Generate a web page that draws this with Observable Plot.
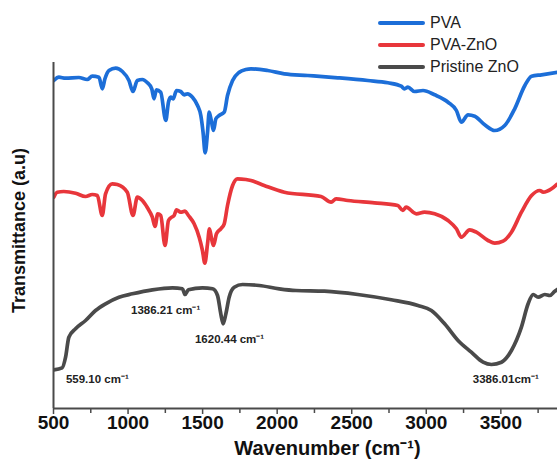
<!DOCTYPE html>
<html><head><meta charset="utf-8">
<script src="https://cdn.jsdelivr.net/npm/d3@7"></script>
<script src="https://cdn.jsdelivr.net/npm/@observablehq/plot@0.6"></script>
<style>
body{margin:0;background:#fff;font-family:"Liberation Sans",Arial,sans-serif;}
#wrap{position:relative;width:557px;height:462px;}
.leg{position:absolute;left:378px;height:18px;line-height:18px;display:flex;align-items:center;font-size:16px;color:#222;white-space:nowrap;}
.leg .sw{display:inline-block;width:47px;height:4px;border-radius:2px;margin-right:5px;}
</style></head><body><div id="wrap"></div>
<script>
// ---- data (wavenumber in cm^-1, transmittance in arbitrary units, stacked) ----
const seriesNames = ["PVA", "PVA-ZnO", "Pristine ZnO"];
const seriesColors = ["#1c6ed8", "#e8363b", "#4a4a4a"];

const pvaWn = [502,536,581,670,726,760,805,827,845,872,917,962,1006,1033,1062,1096,1130,1159,1174,1190,1219,1253,1271,1286,1302,1325,1353,1376,1398,1432,1466,1488,1503,1517,1533,1544,1560,1573,1589,1611,1645,1667,1701,1746,1790,1824,1936,2048,2205,2407,2608,2742,2832,2854,2877,2921,2978,3056,3146,3202,3235,3280,3325,3392,3459,3526,3593,3661,3706,3773,3887];
const pvaT  = [328,331.3,330.3,331,329,332.3,331.3,319.7,329.7,338,340.3,337,328,317,328,329,325.7,319.7,309.7,318.7,316.3,288,306.3,311.3,309.7,318,317,313.7,314.7,311.3,303,293,276.3,255.7,276.3,296.3,286.3,278,289.7,293,296.3,313,328,336.3,339,339.7,338,334.7,333,330.7,328,325.7,322.3,319.7,321.3,317,318,313.7,306.3,298,286.3,293.7,292.3,283.7,278,283,299.7,323,332.3,333.7,336.3];

const pvaZnoWn = [502,525,569,648,715,760,794,827,849,894,928,995,1033,1062,1096,1130,1163,1181,1199,1219,1248,1271,1293,1309,1325,1353,1382,1405,1443,1477,1499,1515,1533,1546,1560,1573,1593,1622,1645,1667,1701,1734,1790,1824,1913,2048,2294,2362,2395,2474,2652,2809,2843,2865,2933,2988,3056,3146,3202,3235,3291,3336,3414,3459,3515,3571,3638,3706,3761,3784,3840,3874];
const pvaZnoT  = [211.3,216.3,217,215.3,212,214,213,193,214.7,224.7,224,216.3,193,211.3,208,200.7,191.3,182,194.7,193,163,188,191.3,193,198.7,196.3,197.3,193,184.7,171.3,158,145.3,164.7,179.7,169.7,163,174.7,179.7,184.7,203,223,229.7,229,228,223,216.3,212,206.3,209.7,208,205.7,203,198,201.3,194.7,196.3,194.7,188,179.7,171.3,178.7,176.3,168,165.3,167.3,176.3,196.3,213,218,216.3,219.7,224];

const znoWn = [502,558,581,603,648,715,782,849,939,1029,1163,1298,1365,1382,1405,1499,1567,1600,1622,1638,1656,1678,1712,1768,1880,2014,2126,2317,2541,2765,2944,3034,3123,3213,3302,3381,3437,3504,3571,3638,3683,3717,3750,3795,3829,3862,3887];
const znoT  = [38.7,40.7,51.3,71.3,79.7,88,98,104.7,111.3,114.7,118.7,120.7,119.7,114,118.7,120.7,119.7,113,94.7,84.7,94.7,111.3,121.3,124,123,119.7,118,117.3,114,108.7,103,98,84.7,68,56.3,46.3,44,46.3,58,81.3,104.7,114,111.3,114,113,117.3,119.7];

const peakWn = [559.10, 1386.21, 1620.44, 3386.01];
const peakLabels = ["559.10 cm\u207B\u00B9", "1386.21 cm\u207B\u00B9", "1620.44 cm\u207B\u00B9", "3386.01cm\u207B\u00B9"];

const majorTicks = [500,1000,1500,2000,2500,3000,3500];
const minorTicks = [750,1250,1750,2250,2750,3250,3750];
const xTitle = "Wavenumber (cm\u207B\u00B9)";
const yTitle = "Transmittance (a.u)";

// ---- build ----
const allWn = [pvaWn, pvaZnoWn, znoWn];
const allT = [pvaT, pvaZnoT, znoT];
const rows = seriesNames.flatMap((name, s) => allWn[s].map((w, i) => ({series: name, wn: w, t: allT[s][i]})));

function interp(wnArr, tArr, w) {
  const i = Math.max(1, Math.min(wnArr.length - 1, d3.bisectLeft(wnArr, w)));
  const a = (w - wnArr[i-1]) / (wnArr[i] - wnArr[i-1]);
  return tArr[i-1] + a * (tArr[i] - tArr[i-1]);
}
// label layout offsets (px) relative to the peak on the ZnO curve
const labelOffsets = [[35, 12], [-20, 17], [9, 27], [22, 17]];
const ann = peakWn.map((w, i) => ({wn: w, t: interp(znoWn, znoT, w), label: peakLabels[i], dx: labelOffsets[i][0], dy: labelOffsets[i][1]}));

const font = "Liberation Sans, Arial, sans-serif";
const plot = Plot.plot({
  width: 557, height: 462,
  marginTop: 62, marginBottom: 54, marginLeft: 53, marginRight: 0,
  style: {fontFamily: font, background: "#fff", overflow: "visible", color: "#111"},
  x: {domain: [500, 3880]},
  y: {domain: [0, 346], axis: null},
  color: {domain: seriesNames, range: seriesColors},
  marks: [
    Plot.line(rows, {x: "wn", y: "t", z: "series", stroke: "series", strokeWidth: 3.7, curve: "monotone-x", clip: true, strokeLinejoin: "round"}),
    Plot.axisX({ticks: minorTicks, tickSize: 5, tickFormat: () => "", label: null, stroke: "#4a4a4a", strokeWidth: 1.5}),
    Plot.axisX({ticks: majorTicks, tickSize: 6, tickPadding: 1, tickFormat: d => String(d), label: null, fontSize: 19, fontWeight: "bold", stroke: "#4a4a4a", strokeWidth: 1.5}),
    Plot.ruleX([500], {stroke: "#4a4a4a", strokeWidth: 2}),
    Plot.ruleY([0], {stroke: "#4a4a4a", strokeWidth: 2}),
    ...ann.map(a => Plot.text([a], {x: "wn", y: "t", text: "label", dx: a.dx, dy: a.dy, fontSize: 11.5, fontWeight: "bold", fill: "#222"})),
    Plot.text([xTitle], {frameAnchor: "bottom", dx: 22, dy: 46, fontSize: 20, fontWeight: "bold", fill: "#111"}),
    Plot.text([yTitle], {frameAnchor: "left", textAnchor: "middle", rotate: -90, dx: -34, dy: -5, fontSize: 18, fontWeight: "bold", fill: "#111"})
  ]
});
const wrap = document.getElementById("wrap");
wrap.appendChild(plot);
const legendY = [23, 45, 67];
seriesNames.forEach((name, i) => {
  const d = document.createElement("div");
  d.className = "leg";
  d.style.top = (legendY[i] - 9) + "px";
  const sw = document.createElement("span");
  sw.className = "sw";
  sw.style.background = seriesColors[i];
  d.appendChild(sw);
  d.appendChild(document.createTextNode(name));
  wrap.appendChild(d);
});
</script></body></html>
